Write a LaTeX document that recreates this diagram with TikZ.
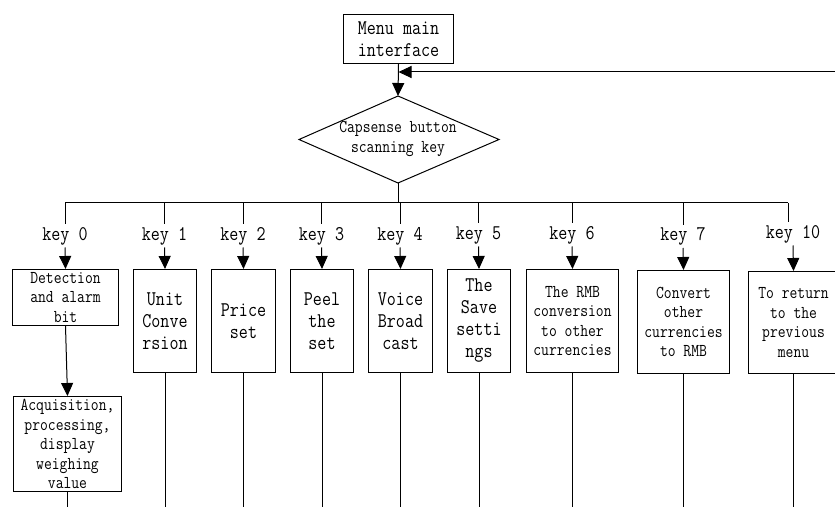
\documentclass[tikz,border=0pt]{standalone}
\usepackage{fontspec}
\setmonofont{Latin Modern Mono}[FakeStretch=0.84]
\usetikzlibrary{arrows.meta}
\newcommand\fbig{\fontsize{20.9bp}{22bp}\selectfont\ttfamily}
\newcommand\fsmall{\fontsize{18.1bp}{19.5bp}\selectfont\ttfamily}
\begin{document}
\begin{tikzpicture}[x=1bp,y=-1bp,
  line width=1bp,
  box/.style={draw, inner sep=0pt, align=center, anchor=north west},
  keylab/.style={inner sep=0pt, minimum height=22bp, font=\fbig},
  arr/.style={-{Triangle[length=13bp,width=12bp]}}]
\useasboundingbox (0,0) rectangle (835,507);
% top
\node[box, minimum width=110bp, minimum height=49bp, font=\fbig] (menu) at (343,14) {Menu main\\interface};
\coordinate (dtop) at (398,96);
\coordinate (dbot) at (398,183);
\coordinate (dl) at (299,139.5);
\coordinate (dr) at (499,139.5);
\draw (dtop) -- (dr) -- (dbot) -- (dl) -- cycle;
\node[inner sep=0pt, align=center, font=\fsmall] (dia) at (398,139) {Capsense button\\scanning key};
\draw[arr] (menu.south) -- (dtop);
\coordinate (fbR) at (840,72);
\draw[arr] (fbR) -- (menu.south |- fbR);
% bus
\coordinate (busC) at (398,203);
\coordinate (busL) at (65,203);
\coordinate (busR) at (788,203);
\draw (dbot) -- (busC);
\draw (busL) -- (busR);
\coordinate (bot) at (0,512);
% boxes
\node[box, minimum width=106bp, minimum height=56bp, font=\fsmall] (k0) at (12,269) {Detection\\and alarm\\bit};
\node[box, minimum width=63bp, minimum height=103bp, font=\fbig] (k1) at (133,269) {Unit\\Conve\\rsion};
\node[box, minimum width=64bp, minimum height=103bp, font=\fbig] (k2) at (211,269) {Price\\set};
\node[box, minimum width=63bp, minimum height=103bp, font=\fbig] (k3) at (290,269) {Peel\\the\\set};
\node[box, minimum width=64bp, minimum height=103bp, font=\fbig] (k4) at (368,269) {Voice\\Broad\\cast};
\node[box, minimum width=63bp, minimum height=103bp, font=\fbig] (k5) at (447,269) {The\\Save\\setti\\ngs};
\node[box, minimum width=92bp, minimum height=103bp, font=\fsmall] (k6) at (526,269) {The RMB\\conversion\\to other\\currencies};
\node[box, minimum width=92bp, minimum height=103bp, font=\fsmall] (k7) at (637,270) {Convert\\other\\currencies\\to RMB};
\node[box, minimum width=90bp, minimum height=102bp, font=\fsmall] (k10) at (748,271) {To return\\to the\\previous\\menu};
\node[box, minimum width=108bp, minimum height=95bp, font=\fsmall] (acq) at (13,396) {Acquisition,\\processing,\\display\\weighing\\value};
% key labels
\node[keylab] (l0) at (65,236) {key 0};
\node[keylab] (l1) at (164.5,236) {key 1};
\node[keylab] (l2) at (243,236) {key 2};
\node[keylab] (l3) at (321.5,236) {key 3};
\node[keylab] (l4) at (400,236) {key 4};
\node[keylab] (l5) at (478.5,235) {key 5};
\node[keylab] (l6) at (572,235) {key 6};
\node[keylab] (l7) at (683,236.5) {key 7};
\node[keylab] (l10) at (793,234) {key 10};
% drops
\foreach \k in {0,1,2,3,4,5,6,7}{
  \draw (l\k.north |- busL) -- (l\k.north);
  \draw[arr] (l\k.south) -- (k\k.north);
}
\draw (busR) -- (busR |- l10.north);
\draw[arr] (l10.south) -- (k10.north);
\draw[arr] (k0.south) -- (acq.north);
% bottom lines
\foreach \k in {acq,k1,k2,k3,k4,k5,k6,k7,k10}{
  \draw (\k.south) -- (\k.south |- bot);
}
\end{tikzpicture}
\end{document}
